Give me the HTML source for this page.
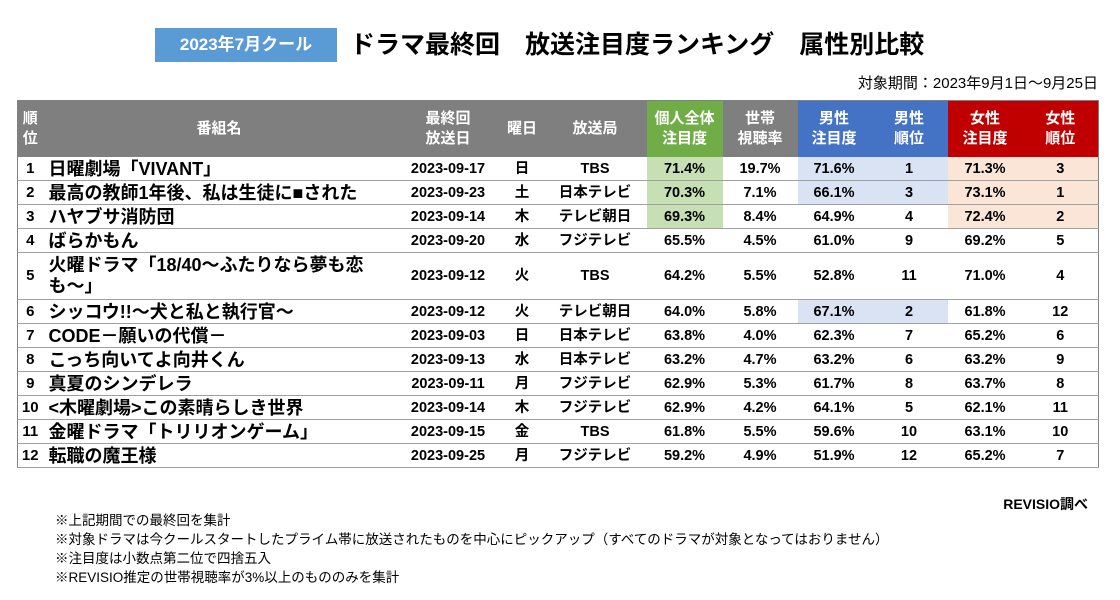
<!DOCTYPE html>
<html><head><meta charset="utf-8"><style>
body{margin:0;width:1120px;height:600px;background:#fff;font-family:"Liberation Sans","Noto Sans CJK JP",sans-serif;position:relative;overflow:hidden;color:#000}
.tag{position:absolute;left:155px;top:28px;width:182px;height:34px;background:#5b9bd5;color:#fff;font-weight:bold;font-size:17px;line-height:34px;text-align:center}
.title{position:absolute;left:350px;top:26px;font-size:25px;font-weight:bold;line-height:38px;white-space:pre}
.period{position:absolute;right:22px;top:72px;font-size:15px}
table{position:absolute;left:17px;top:100px;border-collapse:collapse;table-layout:fixed;width:1081px;border:1.5px solid #808080}
th{background:#7f7f7f;color:#fff;font-size:15px;line-height:20px;font-weight:bold;height:56px;padding:0;overflow:hidden}
td{font-size:14.5px;font-weight:bold;height:23px;line-height:22px;padding:0;text-align:center;border-bottom:1px solid #a0a0a0;white-space:nowrap;overflow:hidden}
td.n{text-align:left;font-size:18px;padding-left:6px;line-height:22px}
td.r{font-size:15px}
tr.tall td{height:46px}
tr.tall td.n{line-height:21px}
th.g{background:#70ad47}th.b{background:#4472c4}th.red{background:#c00000}
.lg{background:#c6e0b4}.lb{background:#dae3f3}.lr{background:#fbe5d6}
.notes{position:absolute;left:55px;top:511px;font-size:13.5px;line-height:19px}
.src{position:absolute;right:32px;top:494px;font-size:14px;font-weight:bold}
</style></head><body>
<div class="tag">2023年7月クール</div>
<div class="title">ドラマ最終回　放送注目度ランキング　属性別比較</div>
<div class="period">対象期間：2023年9月1日～9月25日</div>
<table>
<colgroup><col style="width:25px"><col style="width:353px"><col style="width:105px"><col style="width:43px"><col style="width:103px"><col style="width:76px"><col style="width:75px"><col style="width:73px"><col style="width:77px"><col style="width:75px"><col style="width:76px"></colgroup>
<tr><th>順<br>位</th><th>番組名</th><th>最終回<br>放送日</th><th>曜日</th><th>放送局</th><th class="g">個人全体<br>注目度</th><th>世帯<br>視聴率</th><th class="b">男性<br>注目度</th><th class="b">男性<br>順位</th><th class="red">女性<br>注目度</th><th class="red">女性<br>順位</th></tr>
<tbody id="tb"></tbody>
</table>
<div class="src">REVISIO調べ</div>
<div class="notes">※上記期間での最終回を集計<br>※対象ドラマは今クールスタートしたプライム帯に放送されたものを中心にピックアップ（すべてのドラマが対象となってはおりません）<br>※注目度は小数点第二位で四捨五入<br>※REVISIO推定の世帯視聴率が3%以上のもののみを集計</div>
<script>
const names=["日曜劇場「VIVANT」","最高の教師1年後、私は生徒に■された","ハヤブサ消防団","ばらかもん","火曜ドラマ「18/40～ふたりなら夢も恋<br>も～」","シッコウ!!～犬と私と執行官～","CODE－願いの代償－","こっち向いてよ向井くん","真夏のシンデレラ","&lt;木曜劇場&gt;この素晴らしき世界","金曜ドラマ「トリリオンゲーム」","転職の魔王様"];
const dates=["2023-09-17","2023-09-23","2023-09-14","2023-09-20","2023-09-12","2023-09-12","2023-09-03","2023-09-13","2023-09-11","2023-09-14","2023-09-15","2023-09-25"];
const days=["日","土","木","水","火","火","日","水","月","木","金","月"];
const stations=["TBS","日本テレビ","テレビ朝日","フジテレビ","TBS","テレビ朝日","日本テレビ","日本テレビ","フジテレビ","フジテレビ","TBS","フジテレビ"];
const personal=[71.4,70.3,69.3,65.5,64.2,64.0,63.8,63.2,62.9,62.9,61.8,59.2];
const household=[19.7,7.1,8.4,4.5,5.5,5.8,4.0,4.7,5.3,4.2,5.5,4.9];
const male=[71.6,66.1,64.9,61.0,52.8,67.1,62.3,63.2,61.7,64.1,59.6,51.9];
const maleRank=[1,3,4,9,11,2,7,6,8,5,10,12];
const female=[71.3,73.1,72.4,69.2,71.0,61.8,65.2,63.2,63.7,62.1,63.1,65.2];
const femaleRank=[3,1,2,5,4,12,6,9,8,11,10,7];
const tb=document.getElementById('tb');
names.forEach((n,i)=>{
 const tr=document.createElement('tr');
 
 
 if(i===4)tr.className='tall';
 const pc=i<3?'lg':'', mc=maleRank[i]<=3?'lb':'', fc=femaleRank[i]<=3?'lr':'';
 tr.innerHTML=`<td class="r">${i+1}</td><td class="n">${n}</td><td>${dates[i]}</td><td>${days[i]}</td><td>${stations[i]}</td><td class="${pc}">${personal[i].toFixed(1)}%</td><td>${household[i].toFixed(1)}%</td><td class="${mc}">${male[i].toFixed(1)}%</td><td class="${mc}">${maleRank[i]}</td><td class="${fc}">${female[i].toFixed(1)}%</td><td class="${fc}">${femaleRank[i]}</td>`;
 tb.appendChild(tr);
});
</script>
</body></html>
